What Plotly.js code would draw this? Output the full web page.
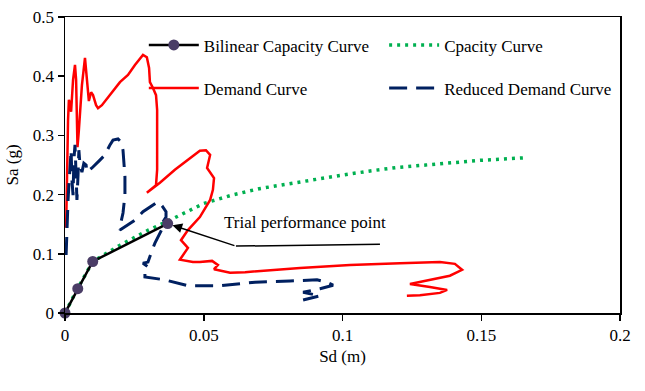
<!DOCTYPE html>
<html>
<head>
<meta charset="utf-8">
<script src="https://cdn.plot.ly/plotly-3.0.1.min.js"></script>
<style>html,body{margin:0;padding:0;background:#fff;}#chart{width:645px;height:391px;}</style>
</head>
<body>
<div id="chart"></div>
<script>
// Bilinear capacity curve (Sd in m, Sa in g)
const bilinearSd = [0, 0.0046, 0.0100, 0.0370];
const bilinearSa = [0, 0.041, 0.087, 0.151];

// Capacity curve
const capacitySd = [0, 0.0046, 0.010, 0.020, 0.030, 0.037, 0.050, 0.060, 0.070, 0.080, 0.090, 0.100, 0.110, 0.120, 0.130, 0.140, 0.150, 0.165];
const capacitySa = [0, 0.042, 0.087, 0.115, 0.140, 0.155, 0.185, 0.199, 0.210, 0.218, 0.226, 0.233, 0.240, 0.246, 0.250, 0.254, 0.258, 0.262];

// Demand curve
const demandSd = [0.0004, 0.0007, 0.0011, 0.0014, 0.0018, 0.0022, 0.0029, 0.0036, 0.0040, 0.0043, 0.0045, 0.0050, 0.0061, 0.0072, 0.0079, 0.0086, 0.0094, 0.0101, 0.0112, 0.0119, 0.0133, 0.0162, 0.0198, 0.0227, 0.0252, 0.0281, 0.0295, 0.0303, 0.0306, 0.0317, 0.0328, 0.0332, 0.0332, 0.0332, 0.0328, 0.0306, 0.0295, 0.0342, 0.0396, 0.0450, 0.0486, 0.0508, 0.0523, 0.0512, 0.0537, 0.0533, 0.0523, 0.0486, 0.0443, 0.0418, 0.0443, 0.0414, 0.0461, 0.0486, 0.0530, 0.0551, 0.0537, 0.0595, 0.0649, 0.0847, 0.1027, 0.1207, 0.1351, 0.1405, 0.1431, 0.1387, 0.1315, 0.1243, 0.1315, 0.1377, 0.1351, 0.1279, 0.1232];
const demandSa = [0.144, 0.258, 0.326, 0.360, 0.353, 0.340, 0.394, 0.419, 0.394, 0.326, 0.280, 0.309, 0.385, 0.431, 0.394, 0.358, 0.373, 0.368, 0.351, 0.346, 0.351, 0.368, 0.390, 0.402, 0.419, 0.436, 0.432, 0.414, 0.390, 0.380, 0.368, 0.343, 0.292, 0.242, 0.216, 0.208, 0.203, 0.220, 0.242, 0.262, 0.274, 0.275, 0.267, 0.245, 0.228, 0.208, 0.191, 0.162, 0.140, 0.123, 0.110, 0.090, 0.086, 0.086, 0.088, 0.081, 0.074, 0.068, 0.069, 0.076, 0.081, 0.084, 0.086, 0.083, 0.073, 0.063, 0.056, 0.049, 0.044, 0.039, 0.034, 0.030, 0.029];

// Reduced demand curve
const reducedSd = [0.0004, 0.0007, 0.0011, 0.0014, 0.0018, 0.0022, 0.0025, 0.0029, 0.0032, 0.0036, 0.0040, 0.0043, 0.0047, 0.0050, 0.0054, 0.0061, 0.0068, 0.0076, 0.0079, 0.0097, 0.0123, 0.0144, 0.0162, 0.0173, 0.0191, 0.0202, 0.0209, 0.0213, 0.0216, 0.0216, 0.0213, 0.0209, 0.0202, 0.0198, 0.0227, 0.0252, 0.0281, 0.0306, 0.0335, 0.0350, 0.0364, 0.0364, 0.0353, 0.0353, 0.0339, 0.0324, 0.0314, 0.0299, 0.0281, 0.0299, 0.0288, 0.0288, 0.0360, 0.0443, 0.0559, 0.0685, 0.0811, 0.0908, 0.0944, 0.0966, 0.0919, 0.0858, 0.0919, 0.0858];
const reducedSa = [0.098, 0.149, 0.191, 0.216, 0.250, 0.275, 0.225, 0.199, 0.258, 0.284, 0.233, 0.191, 0.233, 0.275, 0.250, 0.238, 0.253, 0.250, 0.238, 0.245, 0.257, 0.267, 0.284, 0.292, 0.294, 0.289, 0.275, 0.255, 0.230, 0.199, 0.182, 0.169, 0.154, 0.140, 0.149, 0.157, 0.171, 0.179, 0.188, 0.181, 0.171, 0.162, 0.154, 0.145, 0.132, 0.118, 0.106, 0.086, 0.084, 0.078, 0.071, 0.061, 0.056, 0.046, 0.046, 0.052, 0.054, 0.056, 0.052, 0.047, 0.041, 0.035, 0.029, 0.022];

// Annotation leader (data coords)
const leaderSd = [0.0616, 0.1135];
const leaderSa = [0.113, 0.116];

const FONT = "Liberation Serif, Times New Roman, serif";

const capacityTrace = {x: capacitySd, y: capacitySa, name: "Cpacity Curve", mode: "lines",
   line: {color: "#00b050", width: 3.5, dash: "3px,5px"},
   legend: "legend2", legendgroup: "c", legendrank: 1};
const demandTrace = {x: demandSd, y: demandSa, name: "Demand Curve", mode: "lines",
   line: {color: "#ff0000", width: 2.5},
   legend: "legend", legendgroup: "b", legendrank: 2};
const reducedTrace = {x: reducedSd, y: reducedSa, name: "Reduced Demand Curve", mode: "lines",
   line: {color: "#002060", width: 3, dash: "18px,9px"},
   legend: "legend2", legendgroup: "d", legendrank: 2};
const bilinearTrace = {x: bilinearSd, y: bilinearSa, name: "Bilinear Capacity Curve", mode: "lines+markers",
   line: {color: "#000000", width: 2.5}, marker: {color: "#4a3d66", size: 11}, cliponaxis: false,
   legend: "legend", legendgroup: "a", legendrank: 1};

const trialSd = bilinearSd[bilinearSd.length - 1];
const trialSa = bilinearSa[bilinearSa.length - 1];

const legendBase = {xanchor: "left", yanchor: "top", bgcolor: "rgba(0,0,0,0)",
           font: {family: FONT, size: 17, color: "#000"}, itemwidth: 50, tracegroupgap: 18, traceorder: "grouped"};

const layout = {
  width: 645, height: 391,
  margin: {l: 65, r: 25, t: 17, b: 78},
  paper_bgcolor: "#ffffff", plot_bgcolor: "#ffffff",
  font: {family: FONT, size: 16, color: "#000"},
  xaxis: {range: [0, 0.2], dtick: 0.05, showgrid: false, zeroline: false,
          showline: true, linecolor: "#000", linewidth: 1.5, mirror: true,
          ticks: "outside", ticklen: 6, tickcolor: "#000", tickwidth: 1.5,
          tickfont: {family: FONT, size: 17, color: "#000"},
          title: {text: "Sd (m)", font: {family: FONT, size: 17, color: "#000"}, standoff: 6}},
  yaxis: {range: [0, 0.5], dtick: 0.1, showgrid: false, zeroline: false,
          showline: true, linecolor: "#000", linewidth: 1.5, mirror: true,
          ticks: "outside", ticklen: 6, tickcolor: "#000", tickwidth: 1.5,
          tickfont: {family: FONT, size: 17, color: "#000"},
          title: {text: "Sa (g)", font: {family: FONT, size: 17, color: "#000"}, standoff: 10}},
  legend: Object.assign({x: 0.142, y: 0.965}, legendBase),
  legend2: Object.assign({x: 0.575, y: 0.965}, legendBase),
  showlegend: true,
  shapes: [
    {type: "line", xref: "x", yref: "y", x0: leaderSd[0], y0: leaderSa[0], x1: leaderSd[1], y1: leaderSa[1],
     line: {color: "#000", width: 1.5}}
  ],
  annotations: [
    {x: trialSd, y: trialSa, xref: "x", yref: "y", ax: leaderSd[0], ay: leaderSa[0], axref: "x", ayref: "y",
     text: "", showarrow: true, arrowhead: 2, arrowsize: 1.3, arrowwidth: 1.5, arrowcolor: "#000", standoff: 5},
    {x: leaderSd[0] - 0.005, y: leaderSa[0] + 0.020, xref: "x", yref: "y", xanchor: "left", yanchor: "bottom",
     text: "Trial performance point", showarrow: false, font: {family: FONT, size: 17, color: "#000"}}
  ]
};

Plotly.newPlot("chart", [capacityTrace, demandTrace, reducedTrace, bilinearTrace], layout, {displayModeBar: false, staticPlot: true});
</script>
</body>
</html>
